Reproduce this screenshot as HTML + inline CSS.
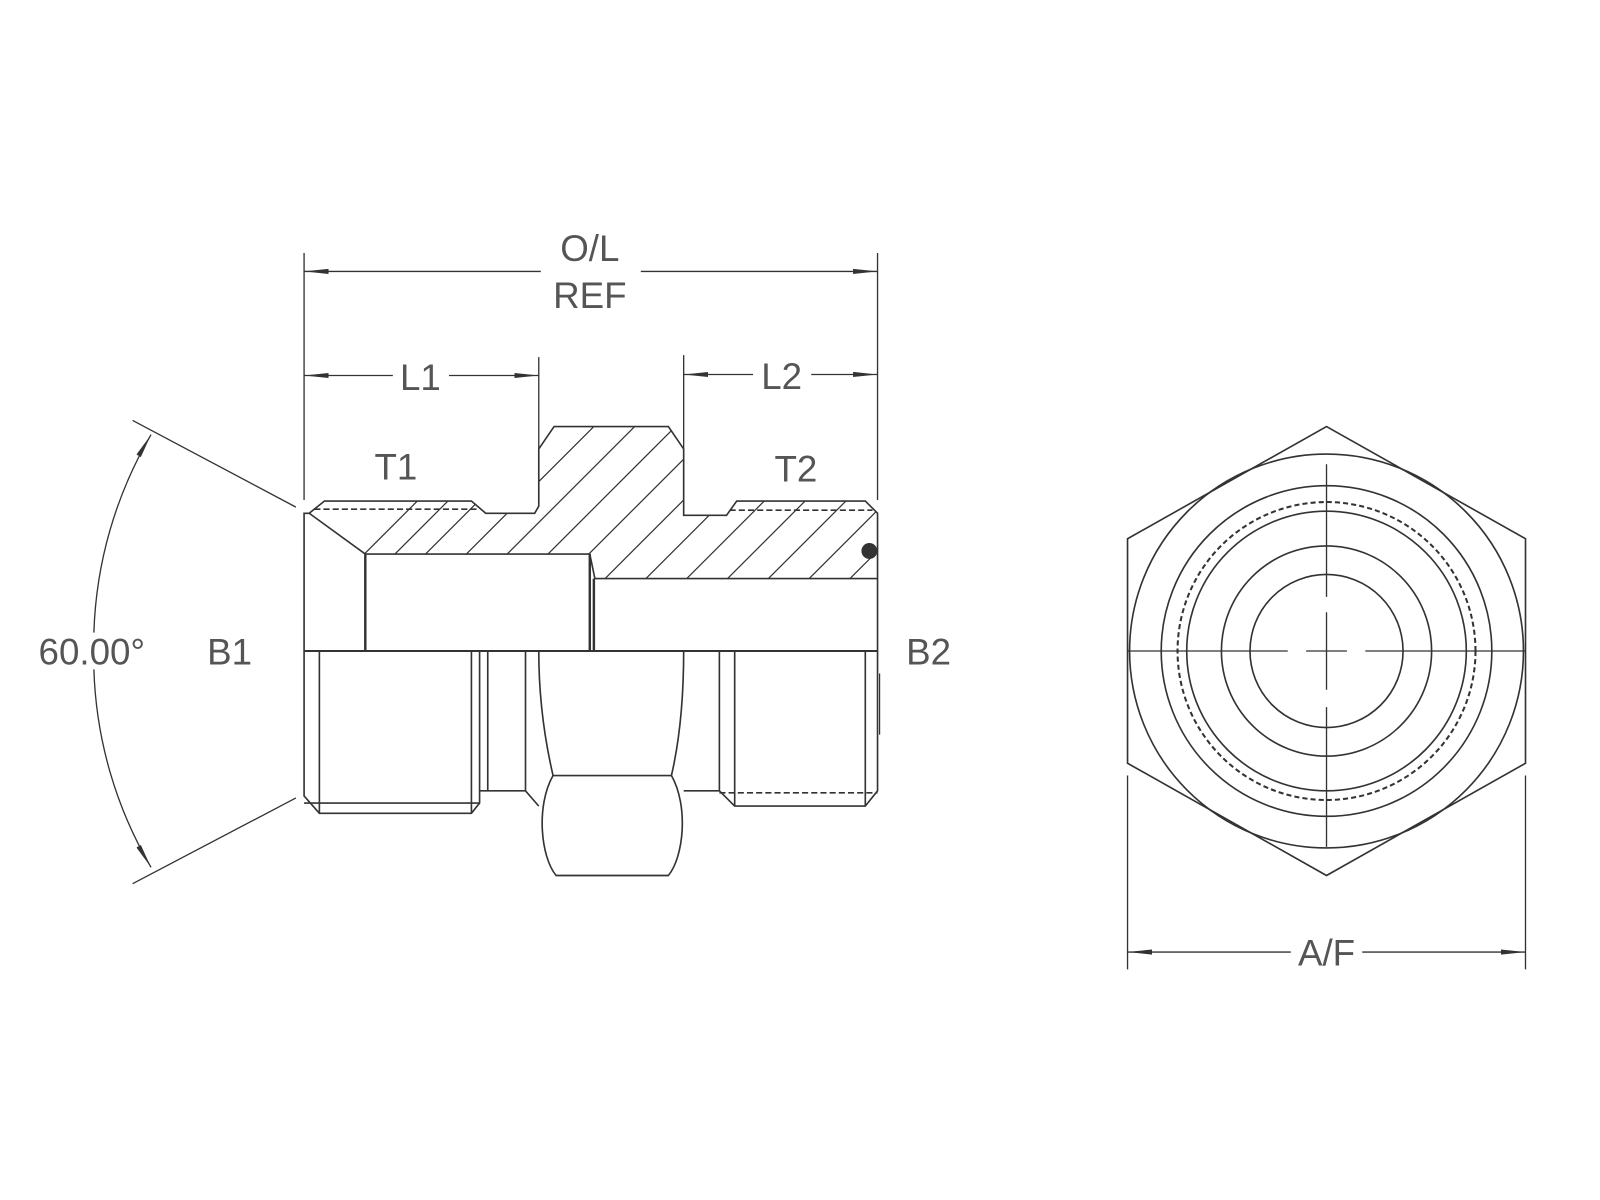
<!DOCTYPE html>
<html><head><meta charset="utf-8"><style>html,body{margin:0;padding:0;background:#fff}svg{display:block}text{font-family:"Liberation Sans",sans-serif;fill:#555;font-size:36px}</style></head>
<body>
<svg width="1600" height="1200" viewBox="0 0 1600 1200" xmlns="http://www.w3.org/2000/svg">
<defs>
<clipPath id="sec"><path d="M303,503 L318,491 L462,491 L476,503 L524,503 L528,496 L528,440 L543,418 L655,418 L670,440 L670,505 L712,505 L722,491 L848,491 L860,503 L860,567 L583,567 L578,543 L358,543 Z"/></clipPath>
<marker id="ar" markerWidth="24" markerHeight="8" refX="24" refY="4" orient="auto" markerUnits="userSpaceOnUse"><path d="M0,1.5 L24,4 L0,6.5 Z" fill="#333"/></marker>
</defs>
<g transform="scale(1.0204)">
<g stroke="#333" stroke-width="1.6" fill="none">
<g clip-path="url(#sec)" stroke-width="1.2">
<path d="M300,600 L500,400 M330,600 L530,400 M360,600 L560,400 M400,600 L600,400 M440,600 L640,400 M480,600 L680,400 M520,600 L720,400 M560,600 L760,400 M600,600 L800,400 M640,600 L840,400 M680,600 L880,400 M720,600 L920,400 M760,600 L960,400 M800,600 L1000,400 M840,600 L1040,400"/>
</g>
<path d="M298,638 L298,503 L303,503 L318,491 L462,491 L476,503 L524,503 L528,496 L528,440 L543,418 L655,418 L670,440 L670,505 L712,505 L722,491 L848,491 L860,503 L860,638"/>
<path d="M303,503 L358,543 L578,543 L583,567 L860,567"/>
<path d="M358,543 L358,638 M578,543 L578,638 M582,567 L582,638" stroke-width="2.4"/>
<path d="M308,499 L470,499 M715,500 L855,500" stroke-dasharray="6,3"/>
<path d="M298,638 L860,638" stroke-width="2"/>
<circle cx="852" cy="540" r="7" fill="#333"/>
<path d="M298,638 L298,780 L313,797 L462,797 L470,787 L470,638"/>
<path d="M313,638 L313,797 M462,638 L462,797 M298,787 L470,787"/>
<path d="M478,638 L478,775 M515,638 L515,775 M470,775 L515,775 L528,790"/>
<path d="M528,638 C528,690 535,730 542,760 L658,760 C665,730 670,690 670,638"/>
<path d="M542,760 C525,790 530,840 545,858 L655,858 C670,840 675,790 658,760"/>
<path d="M670,775 L705,775 M705,638 L705,775 L720,790 L848,790 L860,775 L860,638 M720,638 L720,790 M848,638 L848,790"/>
<path d="M705,777 L860,777" stroke-dasharray="6,3"/>
<path d="M862,660 L862,720" stroke-width="1.2"/>
<g stroke-width="1.3">
<path d="M298,248 L298,490 M860,248 L860,490 M528,350 L528,440 M670,348 L670,440"/>
<path d="M530,266 L298,266" marker-end="url(#ar)"/><path d="M628,266 L860,266" marker-end="url(#ar)"/>
<path d="M385,368 L298,368" marker-end="url(#ar)"/><path d="M440,368 L528,368" marker-end="url(#ar)"/>
<path d="M738,367 L670,367" marker-end="url(#ar)"/><path d="M795,367 L860,367" marker-end="url(#ar)"/>
<path d="M290,497 L130,412 M290,782 L130,866"/>
<path d="M92,620 A408,408 0 0 1 148,426" marker-end="url(#ar)"/>
<path d="M92,656 A408,408 0 0 0 148,850" marker-end="url(#ar)"/>
<path d="M1105,760 L1105,950 M1495,760 L1495,950"/>
<path d="M1265,933 L1105,933" marker-end="url(#ar)"/><path d="M1335,933 L1495,933" marker-end="url(#ar)"/>
</g>
<path d="M1300,418 L1495,528 L1495,748 L1300,858 L1105,748 L1105,528 Z"/>
<circle cx="1300" cy="638" r="193"/>
<circle cx="1300" cy="638" r="162"/>
<circle cx="1300" cy="638" r="146" stroke-dasharray="5,3" stroke-width="2"/>
<circle cx="1300" cy="638" r="137"/>
<circle cx="1300" cy="638" r="103"/>
<circle cx="1300" cy="638" r="75"/>
<path d="M1105,638 L1262,638 M1280,638 L1320,638 M1338,638 L1495,638 M1300,455 L1300,585 M1300,600 L1300,676 M1300,693 L1300,830" stroke-width="1.3"/>
</g>
<g text-anchor="middle">
<text x="578" y="256">O/L</text><text x="578" y="302">REF</text>
<text x="412" y="382">L1</text><text x="766" y="381">L2</text>
<text x="388" y="470">T1</text><text x="780" y="472">T2</text>
<text x="90" y="651">60.00°</text><text x="225" y="651">B1</text><text x="910" y="651">B2</text>
<text x="1300" y="946">A/F</text>
</g>
</g>
</svg>
</body></html>
